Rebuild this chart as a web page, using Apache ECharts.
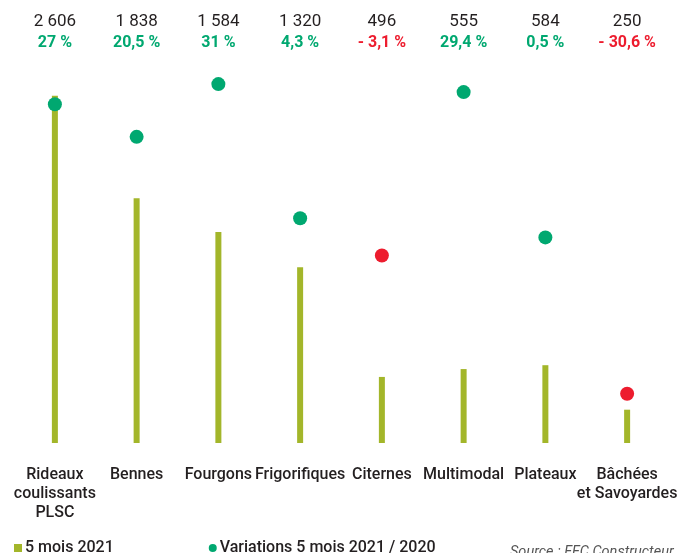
<!DOCTYPE html>
<html><head><meta charset="utf-8">
<script src="https://cdn.jsdelivr.net/npm/echarts@6/dist/echarts.min.js"></script>
<style>html,body{margin:0;padding:0;background:#fff}#c{width:685px;height:553px}</style>
</head><body><div id="c"></div>
<script>
var categories = ['Rideaux\ncoulissants\nPLSC', 'Bennes', 'Fourgons', 'Frigorifiques', 'Citernes', 'Multimodal', 'Plateaux', 'Bâchées\net Savoyardes'];
var volumes2021 = [2606, 1838, 1584, 1320, 496, 555, 584, 250];
var variations = [27, 20.5, 31, 4.3, -3.1, 29.4, 0.5, -30.6];
var legendNames = ['5 mois 2021', 'Variations 5 mois 2021 / 2020'];
var sourceText = 'Source : FFC Constructeur';

var GREEN = '#00a870', RED = '#ed1c2e', OLIVE = '#a3b62a', DARK = '#231f20';
var FONT = 'Roboto';

function fmtVol(v){ return String(v).replace(/\B(?=(\d{3})+(?!\d))/g, ' '); }
function fmtPct(p){
  var s = String(Math.abs(p)).replace('.', ',') + ' %';
  return p < 0 ? '- ' + s : s;
}

var chart = echarts.init(document.getElementById('c'), null, {renderer: 'canvas'});
chart.setOption({
  animation: false,
  backgroundColor: '#fff',
  grid: {left: 14, right: 17, top: 70, bottom: 110},
  legend: {
    left: 9, top: 535, itemWidth: 8, itemHeight: 8, itemGap: 95,
    textStyle: {fontFamily: FONT, fontSize: 16, fontWeight: 500, color: DARK, padding: [0, 0, 0, -2]},
    data: [
      {name: legendNames[0], icon: 'rect', itemStyle: {color: OLIVE}},
      {name: legendNames[1], icon: 'circle', itemStyle: {color: GREEN}}
    ]
  },
  xAxis: [{
    type: 'category', data: categories, position: 'bottom',
    axisLine: {show: false}, axisTick: {show: false},
    axisLabel: {interval: 0, margin: 22, fontFamily: FONT, fontSize: 16, fontWeight: 500, lineHeight: 19, color: DARK, hideOverlap: false}
  }, {
    type: 'category', data: categories, position: 'top',
    axisLine: {show: false}, axisTick: {show: false},
    axisLabel: {
      interval: 0, margin: 17, hideOverlap: false,
      formatter: function (v, i) {
        return '{v|' + fmtVol(volumes2021[i]) + '}\n{' + (variations[i] < 0 ? 'n' : 'p') + '|' + fmtPct(variations[i]) + '}';
      },
      rich: {
        v: {fontFamily: FONT, fontSize: 17, color: DARK, lineHeight: 21},
        p: {fontFamily: FONT, fontSize: 16, fontWeight: 'bold', color: GREEN, lineHeight: 21},
        n: {fontFamily: FONT, fontSize: 16, fontWeight: 'bold', color: RED, lineHeight: 21}
      }
    }
  }],
  yAxis: [
    {type: 'value', min: 0, max: 2800, show: false, splitLine: {show: false}},
    {type: 'value', min: -40.4, max: 33.8, show: false, splitLine: {show: false}}
  ],
  series: [{
    name: legendNames[0], type: 'bar', data: volumes2021, barWidth: 6,
    xAxisIndex: 0, yAxisIndex: 0, itemStyle: {color: OLIVE}
  }, {
    name: legendNames[1], type: 'scatter', data: variations, symbolSize: 14,
    xAxisIndex: 0, yAxisIndex: 1,
    itemStyle: {opacity: 1, color: function (p) { return p.value < 0 ? RED : GREEN; }}
  }],
  graphic: [{
    type: 'text', left: 510, top: 545,
    style: {text: sourceText, fontFamily: FONT, fontSize: 14.5, fontStyle: 'italic', fill: '#555'}
  }]
});
</script></body></html>
